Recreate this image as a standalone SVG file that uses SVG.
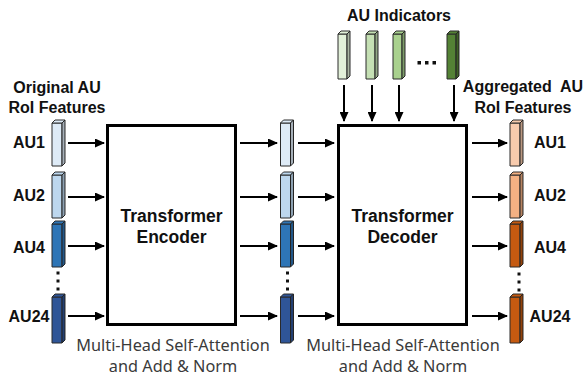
<svg xmlns="http://www.w3.org/2000/svg" xmlns:xlink="http://www.w3.org/1999/xlink" width="586" height="377" viewBox="0 0 586 377">
<style>
.lbl{font-family:"Liberation Sans",Arial,sans-serif;font-weight:bold;font-size:16px;fill:#111;text-anchor:middle}
.big{font-family:"Liberation Sans",Arial,sans-serif;font-weight:bold;font-size:17.5px;fill:#111;text-anchor:middle}
.cap{font-family:"Noto Sans",sans-serif;font-size:16.3px;fill:#3a3a3a;text-anchor:middle}
.box{fill:#fff;stroke:#000;stroke-width:3}
.arr{stroke:#000;stroke-width:2;fill:none;marker-end:url(#ah)}
.dot{fill:#111}
</style>
<defs>
<marker id="ah" markerUnits="userSpaceOnUse" markerWidth="10" markerHeight="9" refX="9" refY="4.5" orient="auto">
<path d="M0,0 L10,4.5 L0,9 z" fill="#000"/>
</marker>
<g id="b43" stroke="#2a2a2a" stroke-width="1" stroke-linejoin="round">
<rect x="0" y="0" width="10" height="43"/>
<polygon points="0,0 3,-3 13,-3 10,0"/>
<polygon points="10,0 13,-3 13,40 10,43"/>
<polygon points="10,0 13,-3 13,40 10,43" fill="#000" fill-opacity="0.25" stroke="none"/>
</g>
<g id="b46" stroke="#2a2a2a" stroke-width="1" stroke-linejoin="round">
<rect x="0" y="0" width="10" height="46"/>
<polygon points="0,0 3,-3 13,-3 10,0"/>
<polygon points="10,0 13,-3 13,43 10,46"/>
<polygon points="10,0 13,-3 13,43 10,46" fill="#000" fill-opacity="0.25" stroke="none"/>
</g>
<g id="bi" stroke="#2a2a2a" stroke-width="1" stroke-linejoin="round">
<rect x="0" y="0" width="9" height="45"/>
<polygon points="0,0 3,-3 12,-3 9,0"/>
<polygon points="9,0 12,-3 12,42 9,45"/>
<polygon points="9,0 12,-3 12,42 9,45" fill="#000" fill-opacity="0.25" stroke="none"/>
</g>
</defs>

<g id="title-indicators"><text class="lbl" x="399" y="21">AU Indicators</text></g>
<g id="title-original"><text class="lbl" x="57" y="93">Original AU</text><text class="lbl" x="57" y="113">RoI Features</text></g>
<g id="title-aggregated"><text class="lbl" x="523" y="92" xml:space="preserve">Aggregated  AU</text><text class="lbl" x="523" y="113">RoI Features</text></g>

<g id="input-features">
<text class="lbl" x="29" y="148">AU1</text>
<text class="lbl" x="29" y="201">AU2</text>
<text class="lbl" x="29" y="252.5">AU4</text>
<text class="lbl" x="29" y="322">AU24</text>
<use xlink:href="#b43" x="52" y="123" fill="#deebf7"/>
<use xlink:href="#b43" x="52" y="175" fill="#bdd7ee"/>
<use xlink:href="#b43" x="52" y="224" fill="#2e75b6"/>
<use xlink:href="#b46" x="52" y="297" fill="#2f5597"/>
<rect class="dot" x="56.5" y="271.5" width="3" height="3"/>
<rect class="dot" x="56.5" y="279.5" width="3" height="3"/>
<rect class="dot" x="56.5" y="287.5" width="3" height="3"/>
</g>

<g id="encoder">
<rect class="box" x="107.5" y="125.5" width="128" height="199"/>
<text class="big" x="171.5" y="221.5">Transformer</text>
<text class="big" x="171.5" y="242.5">Encoder</text>
<text class="cap" x="173" y="351">Multi-Head Self-Attention</text>
<text class="cap" x="173" y="372">and Add &amp; Norm</text>
</g>

<g id="encoded-features">
<use xlink:href="#b43" x="280.5" y="123" fill="#deebf7"/>
<use xlink:href="#b43" x="280.5" y="175" fill="#bdd7ee"/>
<use xlink:href="#b43" x="280.5" y="224" fill="#2e75b6"/>
<use xlink:href="#b46" x="280.5" y="297" fill="#2f5597"/>
<rect class="dot" x="286" y="271.5" width="3" height="3"/>
<rect class="dot" x="286" y="279.5" width="3" height="3"/>
<rect class="dot" x="286" y="287.5" width="3" height="3"/>
</g>

<g id="indicators">
<use xlink:href="#bi" x="338" y="34" fill="#e2f0d9"/>
<use xlink:href="#bi" x="366" y="34" fill="#c5e0b4"/>
<use xlink:href="#bi" x="393" y="34" fill="#a9d18e"/>
<use xlink:href="#bi" x="447" y="34" fill="#548235"/>
<rect class="dot" x="417.5" y="61" width="3.5" height="3.5"/>
<rect class="dot" x="425" y="61" width="3.5" height="3.5"/>
<rect class="dot" x="432.5" y="61" width="3.5" height="3.5"/>
</g>

<g id="decoder">
<rect class="box" x="338.5" y="125.5" width="128" height="199"/>
<text class="big" x="402.5" y="221.5">Transformer</text>
<text class="big" x="402.5" y="242.5">Decoder</text>
<text class="cap" x="403" y="351">Multi-Head Self-Attention</text>
<text class="cap" x="403" y="372">and Add &amp; Norm</text>
</g>

<g id="output-features">
<use xlink:href="#b43" x="510" y="123" fill="#f8cbad"/>
<use xlink:href="#b43" x="510" y="175" fill="#f4b183"/>
<use xlink:href="#b43" x="510" y="224" fill="#c55a11"/>
<use xlink:href="#b46" x="510" y="297" fill="#c55a11"/>
<rect class="dot" x="517.5" y="272.5" width="3" height="3"/>
<rect class="dot" x="517.5" y="280.5" width="3" height="3"/>
<rect class="dot" x="517.5" y="288.5" width="3" height="3"/>
<text class="lbl" x="550" y="148">AU1</text>
<text class="lbl" x="550" y="201">AU2</text>
<text class="lbl" x="550" y="252.5">AU4</text>
<text class="lbl" x="550" y="322">AU24</text>
</g>

<g id="connectors">
<line class="arr" x1="68" y1="143" x2="104" y2="143"/>
<line class="arr" x1="68" y1="197" x2="104" y2="197"/>
<line class="arr" x1="68" y1="246" x2="104" y2="246"/>
<line class="arr" x1="68" y1="316" x2="104" y2="316"/>
<line class="arr" x1="240" y1="143" x2="277" y2="143"/>
<line class="arr" x1="240" y1="197" x2="277" y2="197"/>
<line class="arr" x1="240" y1="246" x2="277" y2="246"/>
<line class="arr" x1="240" y1="316" x2="277" y2="316"/>
<line class="arr" x1="298" y1="143" x2="334" y2="143"/>
<line class="arr" x1="298" y1="197" x2="334" y2="197"/>
<line class="arr" x1="298" y1="246" x2="334" y2="246"/>
<line class="arr" x1="298" y1="316" x2="334" y2="316"/>
<line class="arr" x1="472" y1="143" x2="507" y2="143"/>
<line class="arr" x1="472" y1="197" x2="507" y2="197"/>
<line class="arr" x1="472" y1="246" x2="507" y2="246"/>
<line class="arr" x1="472" y1="316" x2="507" y2="316"/>
<line class="arr" x1="344" y1="85" x2="344" y2="121"/>
<line class="arr" x1="372" y1="85" x2="372" y2="121"/>
<line class="arr" x1="399" y1="85" x2="399" y2="121"/>
<line class="arr" x1="454" y1="85" x2="454" y2="121"/>
</g>
</svg>
